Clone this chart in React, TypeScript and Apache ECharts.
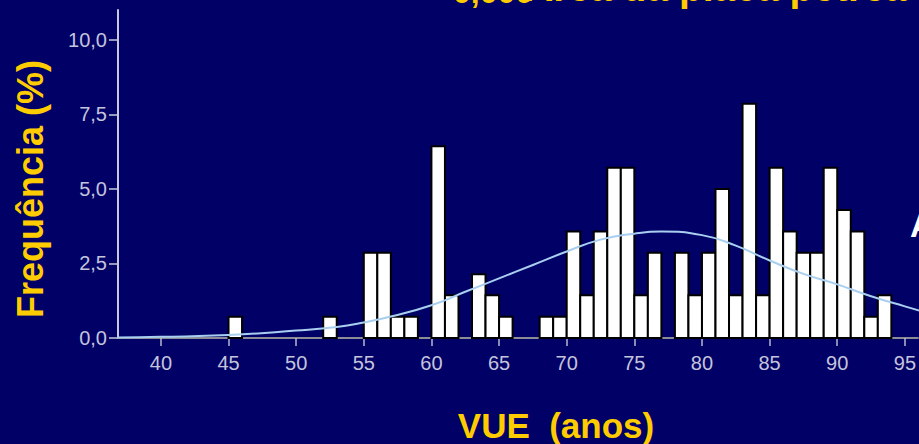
import React, { useEffect, useRef } from "react";
import * as echarts from "echarts";

// Histogram bins (start age of 1-year bin) and frequency in %
const binAges = [45, 52, 55, 56, 57, 58, 60, 61, 63, 64, 65, 68, 69, 70, 71, 72, 73, 74, 75, 76, 78, 79, 80, 81, 82, 83, 84, 85, 86, 87, 88, 89, 90, 91, 92, 93];
const binPercent = [0.71, 0.71, 2.86, 2.86, 0.71, 0.71, 6.43, 1.43, 2.14, 1.43, 0.71, 0.71, 0.71, 3.57, 1.43, 3.57, 5.71, 5.71, 1.43, 2.86, 2.86, 1.43, 2.86, 5.0, 1.43, 7.86, 1.43, 5.71, 3.57, 2.86, 2.86, 5.71, 4.29, 3.57, 0.71, 1.43];

// Normal curve
const curveAges = [36.8, 40, 45, 50, 53, 55, 57, 60, 62.5, 65, 67.5, 70, 72.5, 75, 77, 80, 82.5, 85, 87.5, 90, 92.5, 95, 97];
const curvePercent = [0.02, 0.04, 0.1, 0.25, 0.37, 0.52, 0.72, 1.1, 1.55, 2.0, 2.45, 2.9, 3.3, 3.5, 3.57, 3.45, 3.1, 2.6, 2.15, 1.8, 1.4, 1.06, 0.8];

const xTicks = [40, 45, 50, 55, 60, 65, 70, 75, 80, 85, 90, 95];
const yTicks = [0, 2.5, 5, 7.5, 10];
const yTickLabels = ["0,0", "2,5", "5,0", "7,5", "10,0"];

const xTitle = "VUE  (anos)";
const yTitle = "Frequência (%)";
const topTitleA = "0,000";
const topTitleB = "Área da placa pétrea";
const rightText = "A";

export default function App() {
  const ref = useRef<HTMLDivElement>(null);
  useEffect(() => {
    if (!ref.current) return;
    const chart = echarts.init(ref.current, undefined, { renderer: "svg" });
    const font = "'Liberation Sans', Arial, sans-serif";
    const yellow = "#ffcc00";
    const labelColor = "#c4c4dc";
    chart.setOption({
      animation: false,
      backgroundColor: "#000066",
      grid: { left: 118, right: 0, top: 10, bottom: 106 },
      xAxis: {
        type: "value",
        min: 36.83,
        max: 95.96,
        splitLine: { show: false },
        axisLine: { show: true, lineStyle: { color: "#8c8c94", width: 2 } },
        axisTick: {
          show: true,
          customValues: xTicks,
          length: 8,
          lineStyle: { color: "#b8b8d4", width: 1.5 },
        },
        axisLabel: {
          customValues: xTicks,
          color: labelColor,
          fontFamily: font,
          fontSize: 20,
          margin: 15,
        },
      },
      yAxis: {
        type: "value",
        min: 0,
        max: 11,
        splitLine: { show: false },
        axisLine: { show: true, lineStyle: { color: "#c8c8dc", width: 2 } },
        axisTick: {
          show: true,
          customValues: yTicks,
          length: 9,
          lineStyle: { color: "#c8c8dc", width: 1.5 },
        },
        axisLabel: {
          customValues: yTicks,
          color: labelColor,
          fontFamily: font,
          fontSize: 20,
          margin: 11,
          formatter: (v: number) => {
            const i = yTicks.indexOf(v);
            return i >= 0 ? yTickLabels[i] : "";
          },
        },
      },
      series: [
        {
          type: "custom",
          z: 2,
          encode: { x: 0, y: 1 },
          data: binAges.map((a, i) => [a, binPercent[i]]),
          renderItem: (params: any, api: any) => {
            const x0 = api.value(0);
            const v = api.value(1);
            const p0 = api.coord([x0, 0]);
            const p1 = api.coord([x0 + 1, v]);
            return {
              type: "rect",
              shape: { x: p0[0], y: p1[1], width: p1[0] - p0[0], height: p0[1] - p1[1] },
              style: { fill: "#ffffff", stroke: "#000000", lineWidth: 2 },
            };
          },
        },
        {
          type: "line",
          z: 3,
          smooth: true,
          showSymbol: false,
          data: curveAges.map((a, i) => [a, curvePercent[i]]),
          lineStyle: { color: "#a8cff0", width: 2 },
        },
      ],
      graphic: [
        {
          type: "text",
          left: 453,
          top: -24,
          style: { text: topTitleA, fill: yellow, font: `bold 32px ${font}` },
        },
        {
          type: "text",
          left: 525,
          top: -32,
          style: { text: topTitleB, fill: yellow, font: `bold 39px ${font}` },
        },
        {
          type: "text",
          x: 910,
          y: 225,
          style: { text: rightText, fill: "#ffffff", font: `bold 33px ${font}`, verticalAlign: "middle" },
        },
        {
          type: "text",
          x: 30,
          y: 189,
          rotation: Math.PI / 2,
          style: {
            text: yTitle,
            fill: yellow,
            font: `bold 36px ${font}`,
            align: "center",
            verticalAlign: "middle",
          },
        },
        {
          type: "text",
          x: 556,
          y: 425,
          style: {
            text: xTitle,
            fill: yellow,
            font: `bold 35px ${font}`,
            align: "center",
            verticalAlign: "middle",
          },
        },
      ],
    });
    return () => chart.dispose();
  }, []);
  return (
    <div style={{ position: "fixed", left: 0, top: 0, width: 919, height: 444, overflow: "hidden" }}>
      <div ref={ref} style={{ width: 919, height: 444 }} />
    </div>
  );
}
